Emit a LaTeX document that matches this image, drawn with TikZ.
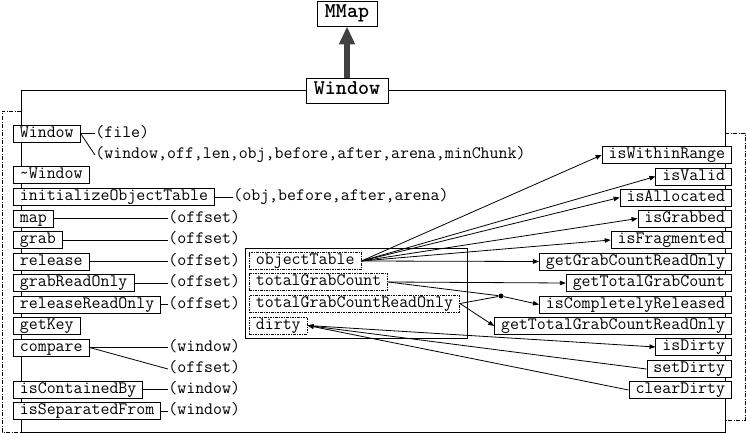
\documentclass[tikz,border=0pt]{standalone}
\usepackage{xcolor}
\usepackage{tikz}
\usetikzlibrary{arrows.meta,positioning}
\definecolor{grisfleche}{HTML}{404040}

\begin{document}
\begin{tikzpicture}[
  x=1pt, y=-1pt, line width=0.8pt,
  >={Triangle[length=6pt,width=4.5pt]},
  code/.style={font=\fontsize{17.4}{20}\selectfont\ttfamily},
  method/.style={code, draw, fill=white, inner xsep=6.5pt, inner ysep=0pt,
                 minimum height=17pt, text height=11pt, text depth=3.5pt},
  attr/.style={method, dash pattern=on 2.5pt off 1pt on 1pt off 1pt, inner xsep=6.5pt},
  title/.style={draw, fill=white, font=\fontsize{21}{24}\selectfont\ttfamily\bfseries,
                inner xsep=8pt, inner ysep=0pt, minimum height=25pt,
                text height=13pt, text depth=4pt},
  param/.style={code, inner sep=0pt, anchor=west, text height=11pt, text depth=3.5pt},
  bracket/.style={dash pattern=on 4pt off 1.5pt on 1pt off 1.5pt}
]
\useasboundingbox (0,0) rectangle (746,433);

% class frame
\draw (21,90) rectangle (725,432);
\draw[bracket] (21,111) -| (2,432) -- (21,432);
\draw[bracket] (725,133) -| (745,420) -- (725,420);
\draw (245,248) rectangle (467,338);

\node[title] (mmap) at (347,13.5) {MMap};
\node[title] (wtitle) at (347,90.5) {Window};
\draw[line width=6pt, grisfleche, -{Triangle[length=18pt,width=15pt]}] (wtitle) -- (mmap);

% public methods, left
\node[method, anchor=west] (ctor) at (13,133.5) {Window};
\node[method, anchor=west] (dtor) at (13,175) {\char`~Window};
\node[method, anchor=west] (init) at (13,197) {initializeObjectTable};
\node[method, anchor=west] (map) at (13,218.5) {map};
\node[method, anchor=west] (grab) at (13,240) {grab};
\node[method, anchor=west] (release) at (13,261.5) {release};
\node[method, anchor=west] (grabro) at (13,283) {grabReadOnly};
\node[method, anchor=west] (releasero) at (13,304.5) {releaseReadOnly};
\node[method, anchor=west] (getkey) at (13,326) {getKey};
\node[method, anchor=west] (compare) at (13,347.5) {compare};
\node[method, anchor=west] (contained) at (13,389.5) {isContainedBy};
\node[method, anchor=west] (separated) at (13,411) {isSeparatedFrom};

% arguments
\node[param] (a-file) at (95,133.5) {(file)};
\node[param] (a-full) at (95,155) {(window,off,len,obj,before,after,arena,minChunk)};
\node[param] (a-init) at (233,197) {(obj,before,after,arena)};
\node[param] (a-map) at (168,218.5) {(offset)};
\node[param] (a-grab) at (168,240) {(offset)};
\node[param] (a-release) at (168,261.5) {(offset)};
\node[param] (a-grabro) at (168,283) {(offset)};
\node[param] (a-releasero) at (168,304.5) {(offset)};
\node[param] (a-cmpwin) at (168,347.5) {(window)};
\node[param] (a-cmpoff) at (168,369) {(offset)};
\node[param] (a-contained) at (168,389.5) {(window)};
\node[param] (a-separated) at (168,411) {(window)};

\draw (ctor.east) -- (a-file.west);
\draw (ctor.east) -- (a-full.west);
\draw (init.east) -- (a-init.west);
\draw (map.east) -- (a-map.west);
\draw (grab.east) -- (a-grab.west);
\draw (release.east) -- (a-release.west);
\draw (grabro.east) -- (a-grabro.west);
\draw (releasero.east) -- (a-releasero.west);
\draw (compare.east) -- (a-cmpwin.west);
\draw (compare.east) -- (a-cmpoff.west);
\draw (contained.east) -- (a-contained.west);
\draw (separated.east) -- (a-separated.west);

% data members
\node[attr, anchor=west] (objtable) at (249,261) {objectTable};
\node[attr, anchor=west] (tgc) at (249,282) {totalGrabCount};
\node[attr, anchor=west] (tgcro) at (249,303.5) {totalGrabCountReadOnly};
\node[attr, anchor=west] (dirty) at (249,325.5) {dirty};

% query methods, right
\node[method, anchor=east] (inrange) at (732,155) {isWithinRange};
\node[method, anchor=east] (valid) at (732,176.5) {isValid};
\node[method, anchor=east] (allocated) at (732,197.5) {isAllocated};
\node[method, anchor=east] (grabbed) at (732,218.5) {isGrabbed};
\node[method, anchor=east] (fragmented) at (732,240) {isFragmented};
\node[method, anchor=east] (getgcro) at (732,261.5) {getGrabCountReadOnly};
\node[method, anchor=east] (gettgc) at (732,283) {getTotalGrabCount};
\node[method, anchor=east] (released) at (732,304.5) {isCompletelyReleased};
\node[method, anchor=east] (gettgcro) at (732,326) {getTotalGrabCountReadOnly};
\node[method, anchor=east] (isdirty) at (732,347) {isDirty};
\node[method, anchor=east] (setdirty) at (732,369) {setDirty};
\node[method, anchor=east] (cleardirty) at (732,390) {clearDirty};

\node[circle, fill, inner sep=0pt, minimum size=5pt] (join) at (501,296) {};

\draw[->] (objtable.east) -- (inrange.west);
\draw[->] (objtable.east) -- (valid.west);
\draw[->] (objtable.east) -- (allocated.west);
\draw[->] (objtable.east) -- (grabbed.west);
\draw[->] (objtable.east) -- (fragmented.west);
\draw[->] (objtable.east) -- (getgcro.west);
\draw[->] (tgc.east) -- (gettgc.west);
\draw (tgc.east) -- (join);
\draw (tgcro.east) -- (join);
\draw[->] (join) -- (released.west);
\draw[->] (tgcro.east) -- (gettgcro.west);
\draw[->] (dirty.east) -- (isdirty.west);
\draw[->] (setdirty.west) -- (dirty.east);
\draw[->] (cleardirty.west) -- (dirty.east);
\end{tikzpicture}
\end{document}
